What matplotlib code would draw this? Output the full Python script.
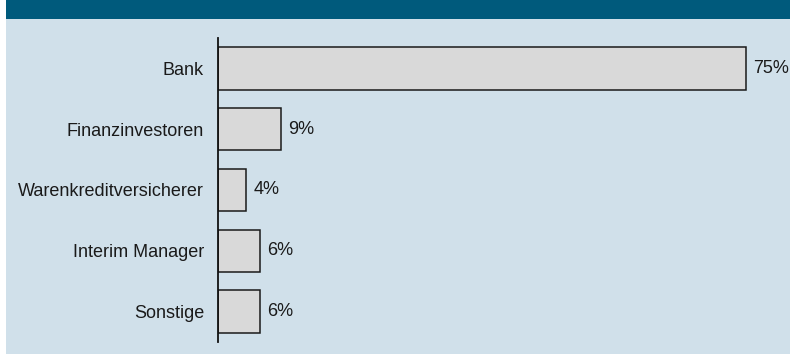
import matplotlib.pyplot as plt
from matplotlib.patches import Rectangle

plt.rcParams['font.family'] = ['Liberation Sans', 'DejaVu Sans']

# Anteile je Initiator (in %)
categories = ['Bank', 'Finanzinvestoren', 'Warenkreditversicherer',
              'Interim Manager', 'Sonstige']
values = [75, 9, 4, 6, 6]
value_labels = ['75%', '9%', '4%', '6%', '6%']

header_color = '#005a7c'
panel_color = '#d0e0ea'
bar_color = '#d9d9d9'

fig = plt.figure(figsize=(7.9, 3.56), dpi=100)
fig.patch.set_facecolor('white')

# Kopfband und heller Hintergrund
fig.add_artist(Rectangle((6 / 790, 1 - 19 / 356), 1, 19 / 356,
                         transform=fig.transFigure, facecolor=header_color,
                         edgecolor='none', zorder=0))
fig.add_artist(Rectangle((6 / 790, 2 / 356), 1, (356 - 21) / 356,
                         transform=fig.transFigure, facecolor=panel_color,
                         edgecolor='none', zorder=0))

ax = fig.add_axes([218 / 790, 14 / 356, 563 / 790, 304 / 356])
ax.set_facecolor('none')

ypos = list(range(len(categories)))
bars = ax.barh(ypos, values, height=0.7, color=bar_color,
               edgecolor='#1a1a1a', linewidth=1.1)

for bar, lab in zip(bars, value_labels):
    ax.text(bar.get_width() + 1.0, bar.get_y() + bar.get_height() / 2, lab,
            va='center', ha='left', fontsize=13, color='#1a1a1a')

ax.set_xlim(0, 80)
ax.set_ylim(len(categories) - 0.5, -0.5)
ax.set_yticks(ypos)
ax.set_yticklabels(categories, fontsize=13, color='#1a1a1a')
ax.tick_params(axis='y', length=0, pad=10)
ax.set_xticks([])

for side in ['top', 'right', 'bottom']:
    ax.spines[side].set_visible(False)
ax.spines['left'].set_linewidth(1.3)
ax.spines['left'].set_color('#111111')

fig.savefig('out.png', dpi=100)
